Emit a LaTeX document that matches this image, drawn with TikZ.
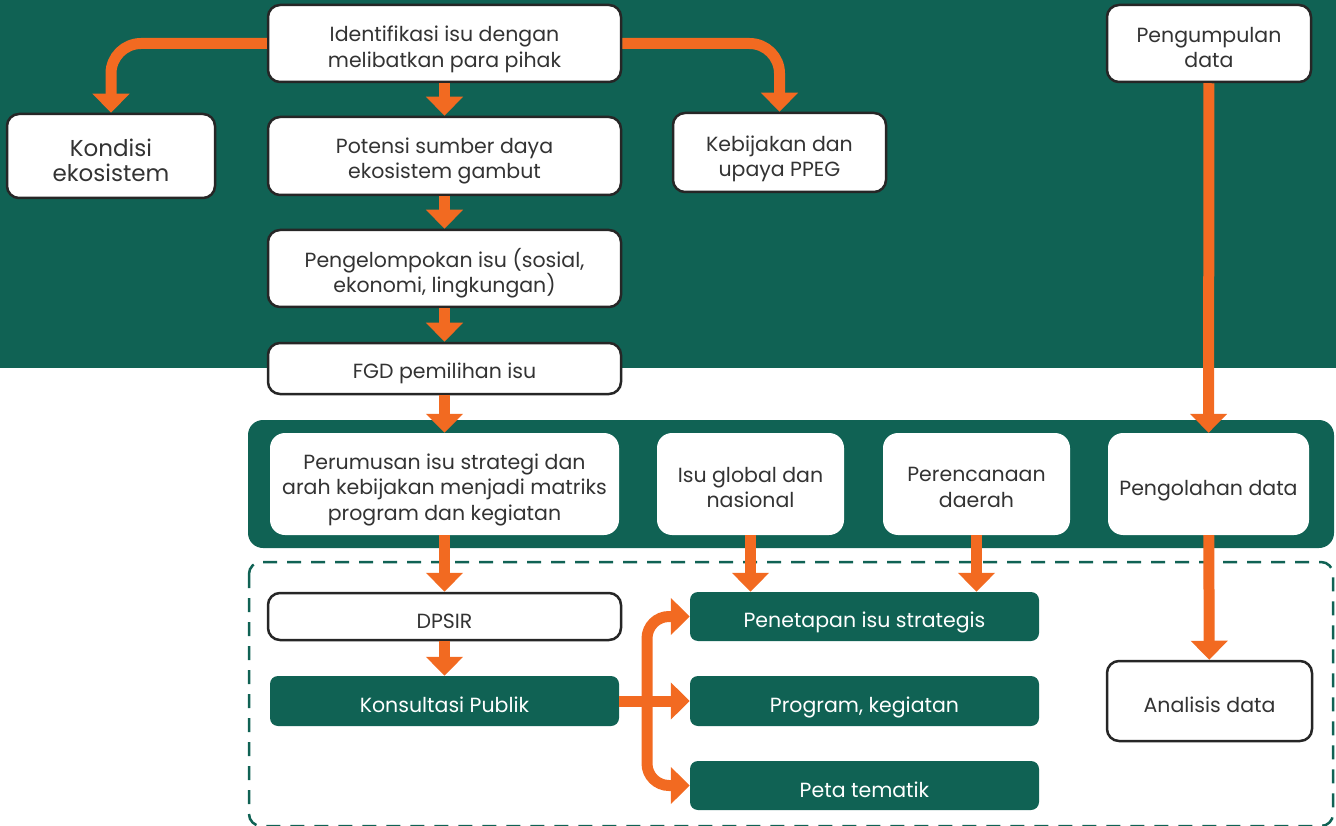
\documentclass[tikz,border=0pt]{standalone}
\usepackage{fontspec}
\setmainfont{Poppins}
\usetikzlibrary{arrows.meta}
\definecolor{dkgreen}{HTML}{106254}
\definecolor{orng}{HTML}{F26A21}
\definecolor{txt}{HTML}{333333}
\begin{document}
\begin{tikzpicture}[x=1pt,y=-1pt,
  base/.style={rounded corners=12pt, align=center, inner sep=0pt, text=txt, font=\fontsize{20.5}{26}\selectfont,
    execute at begin node={\rule{0pt}{24pt}}},
  mlbl/.style={align=center, inner sep=0pt, text=txt, font=\fontsize{20.5}{25.5}\selectfont},
  tx/.style 2 args={label={[mlbl,yshift=-#1]center:{#2}}},
  wbox/.style={base, draw=black!85, line width=2.5pt, fill=white},
  ibox/.style={base, fill=white, rounded corners=15pt},
  gbox/.style={base, fill=dkgreen, text=white, rounded corners=8pt},
  arr/.style={draw=orng, line width=11pt, -{Triangle[width=36pt,length=19pt]}},
]
\useasboundingbox (0,0) rectangle (1336,826);
\fill[dkgreen] (0,0) rectangle (1336,368);
\fill[dkgreen, rounded corners=15pt] (248,420) rectangle (1334,548);
\begin{scope}
\clip (0,0) rectangle (1336,826);
\draw[dkgreen, line width=2.5pt, dash pattern=on 14pt off 10pt, rounded corners=12pt] (249,562) rectangle (1333,826);
\end{scope}

% top column
\node[wbox, minimum width=353pt, minimum height=77pt, tx={6pt}{Identifikasi isu dengan\\melibatkan para pihak}] (ident) at (444.5,43.5) {};
\node[wbox, minimum width=208pt, minimum height=84pt, label={[mlbl, font=\fontsize{23}{25}\selectfont, yshift=-4pt]center:{Kondisi\\ekosistem}}] (kond) at (111,156) {};
\node[wbox, minimum width=353pt, minimum height=78pt, tx={5pt}{Potensi sumber daya\\ekosistem gambut}] (poten) at (444.5,156) {};
\node[wbox, minimum width=213pt, minimum height=79pt, tx={6.5pt}{Kebijakan dan\\upaya PPEG}] (kebij) at (779.5,152.5) {};
\node[wbox, minimum width=204pt, minimum height=77pt, tx={4pt}{Pengumpulan\\data}] (kumpul) at (1209,43.5) {};
\node[wbox, minimum width=353pt, minimum height=77pt, tx={4.5pt}{Pengelompokan isu (sosial,\\ekonomi, lingkungan)}] (kelomp) at (444.5,268.5) {};
\node[wbox, minimum width=353pt, minimum height=51pt, execute at begin node={\rule{0pt}{26pt}}] (fgd) at (444.5,368.5) {FGD pemilihan isu};

% band
\node[ibox, minimum width=349pt, minimum height=102pt, tx={5.5pt}{Perumusan isu strategi dan\\arah kebijakan menjadi matriks\\program dan kegiatan}] (rumus) at (444.5,484) {};
\node[ibox, minimum width=187pt, minimum height=102pt, tx={3.5pt}{Isu global dan\\nasional}] (isu) at (750.5,484) {};
\node[ibox, minimum width=187pt, minimum height=102pt, tx={3.5pt}{Perencanaan\\daerah}] (renc) at (976.5,484) {};
\node[ibox, minimum width=201pt, minimum height=102pt, execute at begin node={\rule{0pt}{28pt}}] (olah) at (1208.5,484) {Pengolahan data};

% dashed area
\node[wbox, minimum width=353pt, minimum height=47pt] (dpsir) at (444.5,616.5) {DPSIR};
\node[gbox, minimum width=349pt, minimum height=50pt] (kons) at (444.5,701) {Konsultasi Publik};
\node[gbox, minimum width=349pt, minimum height=49pt, execute at begin node={\rule{0pt}{27pt}}] (pen) at (864.5,616.5) {Penetapan isu strategis};
\node[gbox, minimum width=349pt, minimum height=50pt, execute at begin node={\rule{0pt}{28pt}}] (prog) at (864.5,701) {Program, kegiatan};
\node[gbox, minimum width=349pt, minimum height=49pt] (peta) at (864.5,785.5) {Peta tematik};
\node[wbox, minimum width=205pt, minimum height=80pt] (anal) at (1209.5,701) {Analisis data};

% arrows
\draw[arr, rounded corners=30pt] (ident.west) -| (kond.north);
\draw[arr, rounded corners=30pt] (ident.east) -| (kebij.north);
\draw[arr] (ident) -- (poten);
\draw[arr] (poten) -- (kelomp);
\draw[arr] (kelomp) -- (fgd);
\draw[arr] (fgd) -- (rumus);
\draw[arr] (kumpul) -- (olah);
\draw[arr] (rumus) -- (dpsir);
\draw[arr] (dpsir) -- (kons);
\draw[arr] (isu.south) -- (isu.south |- pen.north);
\draw[arr] (renc.south) -- (renc.south |- pen.north);
\draw[arr] (olah) -- (anal);
\coordinate (br) at (647,701);
\draw[arr] (kons.east) -- (prog.west);
\draw[arr, rounded corners=22pt] (br) |- (pen.west);
\draw[arr, rounded corners=22pt] (br) |- (peta.west);
\end{tikzpicture}
\end{document}
